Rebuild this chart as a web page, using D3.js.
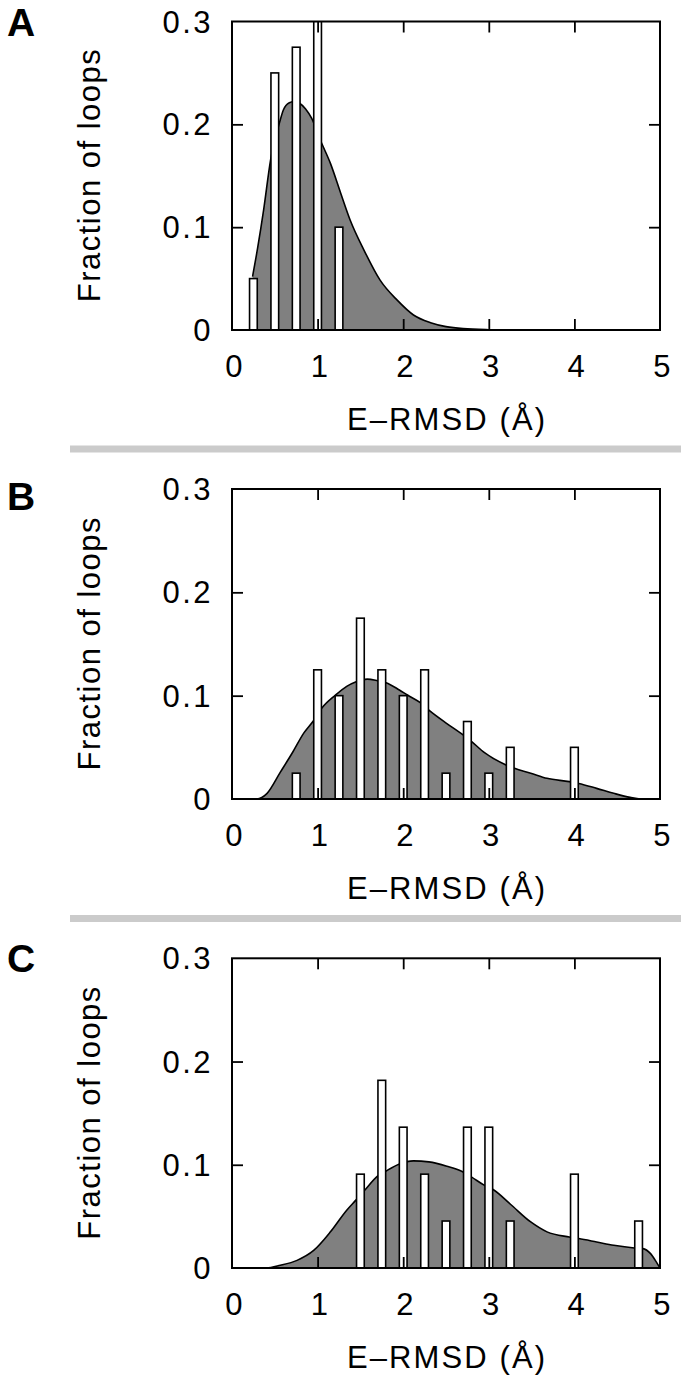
<!DOCTYPE html>
<html>
<head>
<meta charset="utf-8">
<script src="https://cdn.jsdelivr.net/npm/d3@7"></script>
<style>
  html, body { margin: 0; padding: 0; background: #fff; }
  svg { display: block; }
  text { font-family: "Liberation Sans", Arial, Helvetica, sans-serif; fill: #000; }
</style>
</head>
<body>
<svg id="chart" width="689" height="1382"></svg>
<script>
// ---------- data ----------
const panelLabels = ["A", "B", "C"];
const xTickValues = [0, 1, 2, 3, 4, 5];
const yTickValues = [0, 0.1, 0.2, 0.3];
const xTitle = "E\u2013RMSD (\u00C5)";
const yTitle = "Fraction of loops";

// histogram bars (bin centres, fraction of loops)
const barsA_x = [0.25, 0.5, 0.75, 1.0, 1.25];
const barsA_y = [0.05, 0.25, 0.275, 0.325, 0.1];

const barsB_x = [0.75, 1.0, 1.25, 1.5, 1.75, 2.0, 2.25, 2.5, 2.75, 3.0, 3.25, 4.0];
const barsB_y = [0.025, 0.125, 0.1, 0.175, 0.125, 0.1, 0.125, 0.025, 0.075, 0.025, 0.05, 0.05];

const barsC_x = [1.5, 1.75, 2.0, 2.25, 2.5, 2.75, 3.0, 3.25, 4.0, 4.75];
const barsC_y = [0.0909, 0.1818, 0.1364, 0.0909, 0.0455, 0.1364, 0.1364, 0.0455, 0.0909, 0.0455];

// smoothed density curves
const curveA_x = [0.24, 0.3, 0.37, 0.45, 0.556, 0.6, 0.67, 0.74, 0.79, 0.86, 0.93, 1.03, 1.15, 1.27, 1.38, 1.54, 1.73, 1.93, 2.12, 2.32, 2.5, 2.7, 3.0, 3.3, 5.0];
const curveA_y = [0.052, 0.08, 0.117, 0.165, 0.202, 0.214, 0.221, 0.2225, 0.2205, 0.215, 0.206, 0.185, 0.162, 0.133, 0.107, 0.078, 0.0485, 0.029, 0.0146, 0.0071, 0.0033, 0.0013, 0.0003, 0, 0];

const curveB_x = [0, 0.29, 0.41, 0.565, 0.70, 0.84, 0.954, 1.05, 1.21, 1.34, 1.45, 1.58, 1.70, 1.80, 1.955, 2.05, 2.2, 2.30, 2.51, 2.70, 2.80, 2.95, 3.20, 3.30, 3.49, 3.68, 3.94, 4.05, 4.26, 4.46, 4.65, 4.77, 5.0];
const curveB_y = [0, 0, 0.0055, 0.026, 0.044, 0.064, 0.076, 0.088, 0.1006, 0.109, 0.1135, 0.116, 0.1145, 0.1126, 0.1055, 0.1006, 0.0932, 0.086, 0.073, 0.062, 0.0555, 0.0448, 0.033, 0.0297, 0.025, 0.02, 0.0168, 0.015, 0.0103, 0.0055, 0.0016, 0, 0];

const curveC_x = [0, 0.4, 0.565, 0.76, 0.954, 1.15, 1.34, 1.45, 1.55, 1.70, 1.80, 1.95, 2.12, 2.30, 2.51, 2.70, 2.80, 2.95, 3.05, 3.25, 3.49, 3.68, 3.94, 4.05, 4.26, 4.46, 4.70, 4.80, 4.89, 4.97, 5.0];
const curveC_y = [0, 0, 0.0026, 0.0074, 0.017, 0.035, 0.056, 0.066, 0.0753, 0.089, 0.094, 0.1005, 0.1038, 0.1028, 0.0986, 0.093, 0.088, 0.080, 0.076, 0.062, 0.0446, 0.035, 0.030, 0.0285, 0.0252, 0.022, 0.0194, 0.0188, 0.0139, 0.004, 0];

// ---------- layout ----------
const plotLeft = 232, plotRight = 660;
const panelTops = [21.5, 489, 958.3];
const panelBottoms = [330, 799, 1268];
const separatorsY = [449, 918.5];
const barWidth = 0.09;

const svg = d3.select("#chart");

const panels = [
  { label: panelLabels[0], bx: barsA_x, by: barsA_y, cx: curveA_x, cy: curveA_y },
  { label: panelLabels[1], bx: barsB_x, by: barsB_y, cx: curveB_x, cy: curveB_y },
  { label: panelLabels[2], bx: barsC_x, by: barsC_y, cx: curveC_x, cy: curveC_y }
];

// separators
svg.selectAll("line.sep").data(separatorsY).enter().append("line")
  .attr("class", "sep")
  .attr("x1", 70).attr("x2", 681)
  .attr("y1", d => d).attr("y2", d => d)
  .attr("stroke", "#cbcbcb").attr("stroke-width", 7);

panels.forEach((p, i) => {
  const top = panelTops[i], bottom = panelBottoms[i];
  const x = d3.scaleLinear().domain([0, 5]).range([plotLeft, plotRight]);
  const y = d3.scaleLinear().domain([0, 0.3]).range([bottom, top]);
  const g = svg.append("g");

  const clipId = "clip" + i;
  g.append("clipPath").attr("id", clipId).append("rect")
    .attr("x", plotLeft).attr("y", top).attr("width", plotRight - plotLeft).attr("height", bottom - top);

  const plot = g.append("g").attr("clip-path", `url(#${clipId})`);
  const pts = p.cx.map((v, k) => [v, p.cy[k]]);

  const area = d3.area().x(d => x(d[0])).y0(y(0)).y1(d => y(d[1])).curve(d3.curveMonotoneX);
  const line = d3.line().x(d => x(d[0])).y(d => y(d[1])).curve(d3.curveMonotoneX);

  plot.append("path").datum(pts).attr("d", area).attr("fill", "#808080").attr("stroke", "none");
  plot.append("path").datum(pts).attr("d", line).attr("fill", "none").attr("stroke", "#000").attr("stroke-width", 1.6);

  const bars = p.bx.map((v, k) => ({ x: v, y: p.by[k] }));
  plot.selectAll("rect.bar").data(bars).enter().append("rect")
    .attr("class", "bar")
    .attr("x", d => x(d.x - barWidth / 2))
    .attr("width", d => x(d.x + barWidth / 2) - x(d.x - barWidth / 2))
    .attr("y", d => y(d.y))
    .attr("height", d => y(0) - y(d.y))
    .attr("fill", "#fff").attr("stroke", "#000").attr("stroke-width", 1.6);

  // inner ticks on all four sides
  const tickLen = 11;
  const innerX = xTickValues.filter(v => v > 0 && v < 5);
  const innerY = yTickValues.filter(v => v > 0 && v < 0.3);
  const bottomAxis = d3.axisBottom(x).tickValues(innerX).tickSize(-tickLen).tickFormat("");
  const topAxis = d3.axisTop(x).tickValues(innerX).tickSize(-tickLen).tickFormat("");
  const leftAxis = d3.axisLeft(y).tickValues(innerY).tickSize(-tickLen).tickFormat("");
  const rightAxis = d3.axisRight(y).tickValues(innerY).tickSize(-tickLen).tickFormat("");
  [[bottomAxis, `translate(0,${bottom})`], [topAxis, `translate(0,${top})`],
   [leftAxis, `translate(${plotLeft},0)`], [rightAxis, `translate(${plotRight},0)`]].forEach(([ax, tr]) => {
    const ag = g.append("g").attr("transform", tr).call(ax);
    ag.select(".domain").remove();
    ag.selectAll(".tick line").attr("stroke", "#000").attr("stroke-width", 1.8);
  });

  // frame
  g.append("rect").attr("x", plotLeft).attr("y", top)
    .attr("width", plotRight - plotLeft).attr("height", bottom - top)
    .attr("fill", "none").attr("stroke", "#000").attr("stroke-width", 2);

  // tick labels
  g.selectAll("text.xt").data(xTickValues).enter().append("text")
    .attr("class", "xt")
    .attr("x", d => x(d) + 3).attr("y", bottom + 47)
    .attr("text-anchor", "middle")
    .attr("font-size", 31).attr("letter-spacing", "2.5px")
    .text(d => d3.format("d")(d));

  g.selectAll("text.yt").data(yTickValues).enter().append("text")
    .attr("class", "yt")
    .attr("x", 213).attr("y", d => y(d))
    .attr("dy", "0.36em")
    .attr("text-anchor", "end")
    .attr("font-size", 31).attr("letter-spacing", "2.5px")
    .text(d => d === 0 ? "0" : d3.format(".1f")(d));

  // axis titles
  g.append("text")
    .attr("x", (plotLeft + plotRight) / 2).attr("y", bottom + 100)
    .attr("text-anchor", "middle").attr("font-size", 31)
    .attr("textLength", 198).attr("lengthAdjust", "spacing")
    .text(xTitle);

  g.append("text")
    .attr("transform", `translate(100,${(top + bottom) / 2}) rotate(-90)`)
    .attr("text-anchor", "middle").attr("font-size", 31)
    .attr("textLength", 253).attr("lengthAdjust", "spacing")
    .text(yTitle);

  // panel letter
  g.append("text")
    .attr("x", 7).attr("y", [36, 510, 972][i])
    .attr("font-size", 39).attr("font-weight", "bold")
    .text(p.label);
});
</script>
</body>
</html>
